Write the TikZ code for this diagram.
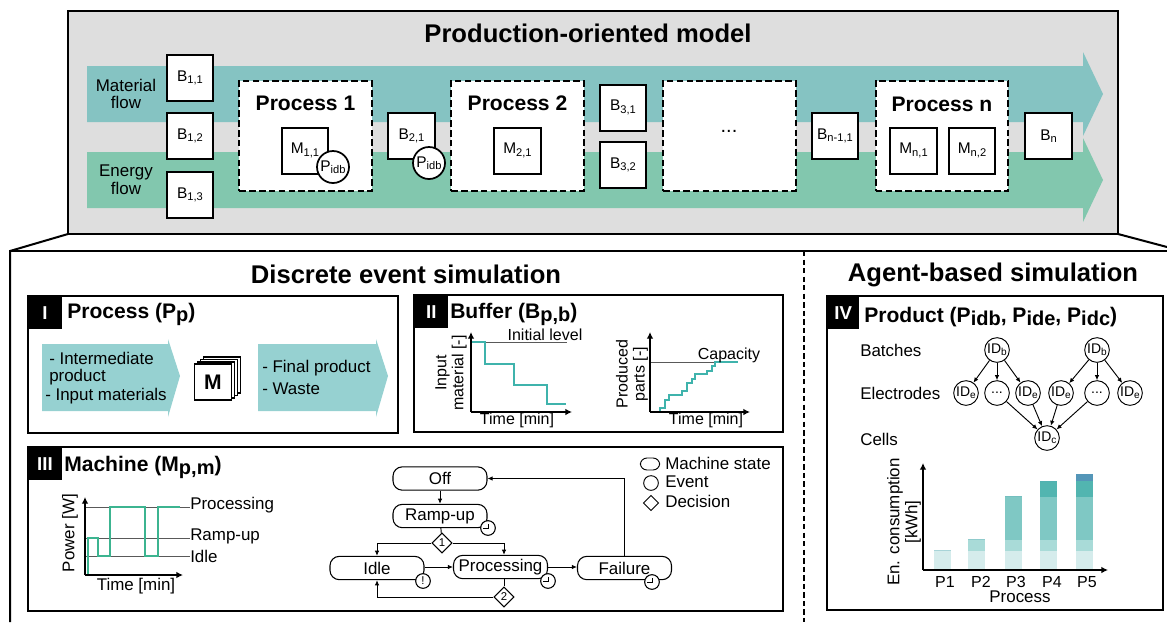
\documentclass[tikz,border=0pt]{standalone}
\usepackage{fontspec}
\setmainfont{Liberation Sans}
\usetikzlibrary{arrows.meta,shapes.geometric}
\newcommand{\idx}[1]{\raisebox{-.3ex}{\scalebox{.72}{#1}}}
\newcommand{\bigidx}[1]{\raisebox{-.35ex}{\scalebox{.95}{#1}}}
\definecolor{materialflow}{HTML}{85C3C2}
\definecolor{energyflow}{HTML}{82C7AE}
\definecolor{lightflow}{HTML}{96D1D1}
\definecolor{stepteal}{HTML}{3FB3AC}
\definecolor{stepgreen}{HTML}{3CB490}
\definecolor{barone}{HTML}{D5ECEC}
\definecolor{bartwo}{HTML}{A9DBD8}
\definecolor{barthree}{HTML}{7FC8C4}
\definecolor{barfour}{HTML}{52B5B0}
\definecolor{barfive}{HTML}{5496B8}
\tikzset{
  boxsize/.style={font=\fontsize{11.6}{12.4}\selectfont},
  bufbox/.style={draw,fill=white,line width=1.5pt,minimum width=35pt,minimum height=34.5pt,inner sep=0pt,boxsize},
  procbox/.style={draw,fill=white,line width=1.5pt,dash pattern=on 5pt off 2.4pt,minimum width=99.5pt,minimum height=82.5pt},
  partmark/.style={draw,circle,fill=white,line width=1.3pt,minimum size=24pt,inner sep=0pt,boxsize},
  tabmark/.style={fill=black,text=white,inner sep=0pt,minimum height=24.5pt,font=\fontsize{14}{14}\bfseries\selectfont},
  headtext/.style={inner sep=0pt,font=\fontsize{15.8}{16}\bfseries\selectfont},
  titletext/.style={inner sep=0pt,font=\fontsize{19.2}{20}\bfseries\selectfont},
  plain/.style={inner sep=0pt,font=\fontsize{12.7}{13.4}\selectfont},
  chartlabel/.style={inner sep=0pt,font=\fontsize{12}{12.8}\selectfont},
  panel/.style={line width=1.7pt},
  axis/.style={line width=1.3pt,-{Latex[length=5pt,width=5pt]}},
  link/.style={line width=.7pt,-{Latex[length=3.8pt,width=3.4pt]}},
  stateline/.style={line width=.7pt},
  statebox/.style={draw,fill=white,line width=.8pt,rounded corners=7pt,minimum width=70.5pt,minimum height=17.5pt,inner sep=0pt,plain},
  decbox/.style={draw,fill=white,diamond,line width=.8pt,minimum size=15pt,inner sep=0pt,font=\fontsize{8.5}{9}\selectfont},
  clockmark/.style={draw,circle,fill=white,line width=.8pt,minimum size=11pt,inner sep=0pt,font=\fontsize{8.5}{9}\selectfont},
  idmark/.style={draw,circle,fill=white,line width=.7pt,minimum size=18.5pt,inner sep=0pt,font=\fontsize{10.5}{11}\selectfont},
}
\begin{document}
\begin{tikzpicture}[x=.75pt,y=-.75pt]
  \useasboundingbox (0,0) rectangle (1167,622);

  % upper model
  \draw[fill=black!13,line width=1.5pt] (68,11) rectangle (1118,234);
  \node[titletext,anchor=base] (modeltitle) at (588,42) {Production-oriented model};
  \fill[materialflow] (87,66) -- (1083,66) -- (1083,52) -- (1103,94) -- (1083,136) -- (1083,122) -- (87,122) -- cycle;
  \fill[energyflow] (87,152) -- (1083,152) -- (1083,138) -- (1103,180) -- (1083,222) -- (1083,208) -- (87,208) -- cycle;
  \node[plain,align=center] (materiallabel) at (126,94) {Material\\flow};
  \node[plain,align=center] (energylabel) at (126,180) {Energy\\flow};

  \foreach \n/\x in {procone/305.5,proctwo/517.5,procdots/729.5,procn/942}
    \node[procbox] (\n) at (\x,136) {};
  \node[headtext,anchor=base] (proconetext) at (305.5,110) {Process 1};
  \node[headtext,anchor=base] (proctwotext) at (517.5,110) {Process 2};
  \node[headtext,anchor=base] (procntext) at (942,111) {Process n};
  \node[inner sep=0pt,font=\fontsize{15}{15}\selectfont] (dots) at (729,131) {...};

  \foreach \n/\x/\y/\t in {bufa/190/78/{B\idx{1,1}},bufb/190/136/{B\idx{1,2}},bufc/190/195/{B\idx{1,3}},
      bufd/411.5/136/{B\idx{2,1}},bufe/623/107.5/{B\idx{3,1}},buff/623/165/{B\idx{3,2}},
      bufg/835/136/{B\idx{n-1,1}},bufh/1048.5/136/{B\idx{n}},
      macha/305/150.5/{M\idx{1,1}},machb/517.5/150.5/{M\idx{2,1}},
      machc/913.5/150.5/{M\idx{n,1}},machd/972/150.5/{M\idx{n,2}}}
    \node[bufbox] (\n) at (\x,\y) {\t};
  \node[partmark] (partone) at (333,167) {\makebox[0pt]{P\idx{idb}}};
  \node[partmark] (parttwo) at (429,163) {\makebox[0pt]{P\idx{idb}}};

  % frame
  \draw[line width=1.5pt] (68,234) -- (10,251) -- (10,622);
  \draw[line width=1.5pt] (1118,234) -- (1167,247);
  \draw[line width=1.5pt] (10,251) -- (1167,251);
  \draw[line width=1.5pt,dash pattern=on 4pt off 2.4pt] (804,251) -- (804,622);
  \node[titletext,anchor=base] (destitle) at (406,283) {Discrete event simulation};
  \node[titletext,anchor=base] (abstitle) at (993,281) {Agent-based simulation};

  % process
  \draw[panel] (28,296) rectangle (398,433);
  \node[tabmark,minimum width=25pt,anchor=north west] (tabone) at (28,296) {I};
  \node[headtext,anchor=base west] (onehead) at (67,318) {Process (P\bigidx{p})};
  \fill[lightflow] (42,344) -- (168,344) -- (168,339) -- (180,376) -- (168,417) -- (168,411) -- (42,411) -- cycle;
  \fill[lightflow] (258,344) -- (376,344) -- (376,339) -- (388,376) -- (376,417) -- (376,411) -- (258,411) -- cycle;
  \node[plain,anchor=west] (inputa) at (49,358) {- Intermediate};
  \node[plain,anchor=west] (inputb) at (49,377) {product};
  \node[plain,anchor=west] (inputc) at (45,396) {- Input materials};
  \node[plain,anchor=west] (outputa) at (262,368) {- Final product};
  \node[plain,anchor=west] (outputb) at (262,389) {- Waste};
  \foreach \n/\x/\y in {stacka/222/375,stackb/219/377.5,stackc/216/380,stackd/213/382}
    \node[draw,fill=white,line width=.9pt,minimum width=28pt,minimum height=27pt,inner sep=0pt] (\n) at (\x,\y) {};
  \node[headtext] (stackm) at (213,382) {M};

  % buffer
  \draw[panel] (414,295) rectangle (783,432);
  \node[tabmark,minimum width=25.5pt,anchor=north west] (tabtwo) at (414,295) {II};
  \node[headtext,anchor=base west] (twohead) at (450,318) {Buffer (B\bigidx{p,b})};
  \coordinate (inorigin) at (471,412);
  \coordinate (intop) at (471,332);
  \coordinate (inright) at (572,412);
  \draw[line width=.6pt,black!65] (471,342) -- (567,342);
  \draw[stepteal,line width=1.2pt] (471,342) -- (485,342) -- (485,364) -- (514,364) -- (514,385) -- (547,385) -- (547,404) -- (566,404);
  \draw[axis] (inorigin) -- (intop);
  \draw[axis] (inorigin) -- (inright);
  \node[chartlabel] (inlevel) at (545,335) {Initial level};
  \node[chartlabel,rotate=90,align=center] (inylabel) at (451,373) {Input\\material [-]};
  \node[chartlabel] (inxlabel) at (517,420) {Time [min]};
  \coordinate (outorigin) at (650,412);
  \coordinate (outtop) at (650,332);
  \coordinate (outright) at (750,412);
  \draw[line width=.6pt,black!65] (650,362) -- (738,362);
  \draw[stepteal,line width=1.2pt] (650,412) -- (660,412) -- (660,408) -- (665,408) -- (665,400) -- (669,400) -- (669,395) -- (682,395) -- (682,391) -- (687,391) -- (687,383) -- (692,383) -- (692,379) -- (695,379) -- (695,374) -- (707,374) -- (707,371) -- (712,371) -- (712,366) -- (715,366) -- (715,362) -- (738,362);
  \draw[axis] (outorigin) -- (outtop);
  \draw[axis] (outorigin) -- (outright);
  \node[chartlabel] (outlevel) at (729,355) {Capacity};
  \node[chartlabel,rotate=90,align=center] (outylabel) at (632,374) {Produced\\parts [-]};
  \node[chartlabel] (outxlabel) at (706,420) {Time [min]};

  % machine
  \draw[panel] (28,447) rectangle (783,611);
  \node[tabmark,minimum width=25pt,anchor=north west] (tabthree) at (28,447) {III};
  \node[headtext,anchor=base west] (threehead) at (64,471) {Machine (M\bigidx{p,m})};
  \coordinate (porigin) at (85,575);
  \coordinate (ptop) at (85,497);
  \coordinate (pright) at (183,575);
  \foreach \y in {507,538,556}
    \draw[line width=.6pt,black!65] (85,\y) -- (190,\y);
  \draw[stepgreen,line width=1.1pt] (88,575) -- (88,538) -- (98,538) -- (98,556) -- (110,556) -- (110,507) -- (145,507) -- (145,556) -- (158,556) -- (158,507) -- (180,507);
  \draw[axis] (porigin) -- (ptop);
  \draw[axis] (porigin) -- (pright);
  \node[plain,anchor=west] (plevela) at (190,505) {Processing};
  \node[plain,anchor=west] (plevelb) at (190,536) {Ramp-up};
  \node[plain,anchor=west] (plevelc) at (190,556) {Idle};
  \node[plain,rotate=90] (pylabel) at (70,533) {Power [W]};
  \node[plain] (pxlabel) at (136,586) {Time [min]};

  \node[statebox] (off) at (440,478.5) {Off};
  \node[statebox] (rampup) at (440,516) {Ramp-up};
  \node[statebox] (idle) at (377,568) {Idle};
  \node[statebox] (working) at (500.5,567) {Processing};
  \node[statebox] (failure) at (624.5,568) {Failure};
  \node[decbox] (choiceone) at (442,543) {1};
  \node[decbox] (choicetwo) at (504,597) {2};
  \draw[link] (off) -- (rampup);
  \draw[stateline] (rampup) -- (choiceone);
  \draw[link] (choiceone.west) -| (idle.north);
  \draw[link] (choiceone.east) -| (working.north -| choicetwo);
  \draw[link] (idle.east |- working) -- (working.west);
  \draw[link] (working.east) -- (failure.west |- working);
  \draw[stateline] (working.south -| choicetwo) -- (choicetwo);
  \draw[link] (choicetwo.west) -| (idle.south);
  \draw[link] (failure.north) |- (off.east);
  \foreach \n/\x/\y in {clockramp/488/528,clockworking/548/581,clockfailure/652/582}
    \node[clockmark] (\n) at (\x,\y) {};
  \node[clockmark] (clockidle) at (423,581) {!};
  \foreach \n in {clockramp,clockworking,clockfailure}
    \draw[line width=.7pt] (\n.center) ++(0,-4) -- ++(0,4.5) -- ++(-5,0);

  \node[draw,line width=.7pt,rounded corners=5pt,minimum width=14.5pt,minimum height=9pt,inner sep=0pt] (keystate) at (650,464) {};
  \node[draw,circle,line width=.7pt,minimum size=11pt,inner sep=0pt] (keyevent) at (651,483) {};
  \node[draw,diamond,line width=.7pt,minimum size=11.5pt,inner sep=0pt] (keydec) at (651,503) {};
  \node[plain,anchor=west] (keystatetext) at (665,463) {Machine state};
  \node[plain,anchor=west] (keyeventtext) at (665,482) {Event};
  \node[plain,anchor=west] (keydectext) at (665,501) {Decision};

  % product
  \draw[panel] (827,296) rectangle (1163,610);
  \node[tabmark,minimum width=24pt,anchor=north west] (tabfour) at (827,296) {IV};
  \node[headtext,anchor=base west] (fourhead) at (864,322) {Product (P\bigidx{idb}, P\bigidx{ide}, P\bigidx{idc})};
  \node[plain,anchor=west] (batches) at (860,350) {Batches};
  \node[plain,anchor=west] (electrodes) at (860,393) {Electrodes};
  \node[plain,anchor=west] (cells) at (860,439) {Cells};
  \foreach \n/\x/\y/\t in {batcha/997/350/{ID\idx{b}},batchb/1097/350/{ID\idx{b}},
      elea/966/393/{ID\idx{e}},eleb/997/393/{...},elec/1028/393/{ID\idx{e}},
      eled/1061/393/{ID\idx{e}},elee/1097/393/{...},elef/1130/393/{ID\idx{e}},
      cell/1047/438/{ID\idx{c}}}
    \node[idmark] (\n) at (\x,\y) {\makebox[0pt]{\t}};
  \foreach \a/\b in {batcha/elea,batcha/eleb,batcha/elec,batchb/eled,batchb/elee,batchb/elef,
      eleb/cell,elec/cell,eled/cell,elee/cell}
    \draw[link] (\a) -- (\b);

  \foreach \x/\ya/\yb/\yc/\yd/\ye in {934/550/550/550/550/550,968/551/539/539/539/539,
      1005/551/540/496/496/496,1040/551/540/497/481/481,1076/551/540/497/481/474}{
    \fill[barone] (\x,570) rectangle (\x+17,\ya);
    \fill[bartwo] (\x,\ya) rectangle (\x+17,\yb);
    \fill[barthree] (\x,\yb) rectangle (\x+17,\yc);
    \fill[barfour] (\x,\yc) rectangle (\x+17,\yd);
    \fill[barfive] (\x,\yd) rectangle (\x+17,\ye);
  }
  \coordinate (chartorigin) at (923,570);
  \coordinate (charttop) at (923,463);
  \coordinate (chartright) at (1108,570);
  \draw[axis] (chartorigin) -- (charttop);
  \draw[axis] (chartorigin) -- (chartright);
  \foreach \n/\x in {P1/945,P2/981,P3/1016,P4/1052,P5/1087}
    \node[chartlabel] (label\n) at (\x,582) {\n};
  \node[plain] (chartx) at (1020,597) {Process};
  \node[plain,rotate=90,align=center] (charty) at (904,522) {En. consumption\\{}[kWh]};
\end{tikzpicture}
\end{document}
